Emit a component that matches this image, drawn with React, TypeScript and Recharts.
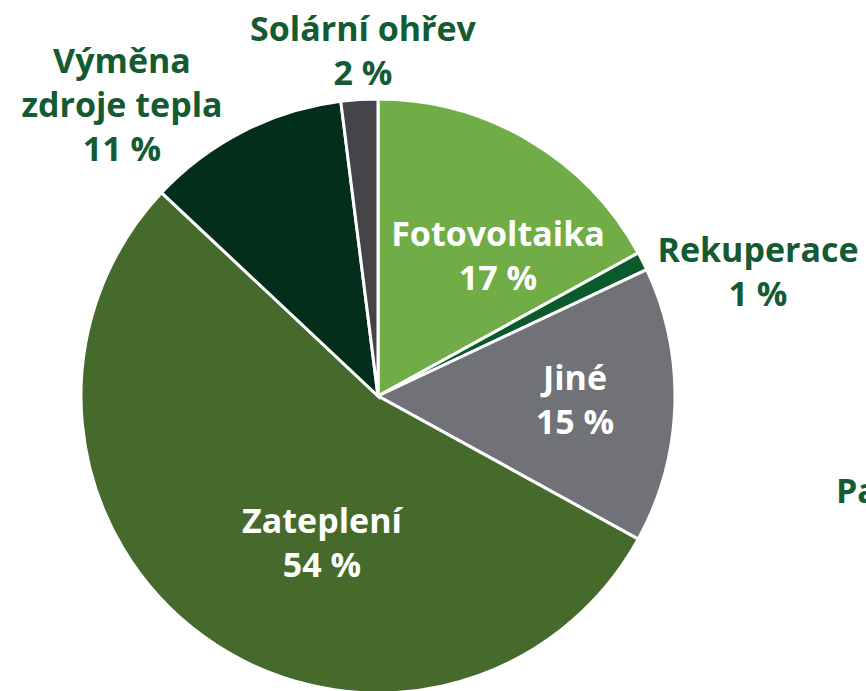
import { PieChart, Pie, Cell } from "recharts";

const names = ["Fotovoltaika", "Rekuperace", "Jiné", "Zateplení", "Výměna zdroje tepla", "Solární ohřev"];
const shares = [17, 1, 15, 54, 11, 2];
const colors = ["#70ad47", "#0b5a2c", "#707278", "#456a2b", "#022e1b", "#434448"];

const data = names.map((name, i) => ({ name, value: shares[i] }));

// label layout: offset from the pie centre, line breaks, inside/outside
const labelLayout = [
  { dx: 120, dy: -141, lines: ["Fotovoltaika"], inside: true },
  { dx: 380, dy: -125, lines: ["Rekuperace"], inside: false },
  { dx: 197, dy: 3, lines: ["Jiné"], inside: true },
  { dx: -56, dy: 146, lines: ["Zateplení"], inside: true },
  { dx: -256, dy: -292, lines: ["Výměna", "zdroje tepla"], inside: false },
  { dx: -15, dy: -346, lines: ["Solární ohřev"], inside: false },
];

const FONT = "'Open Sans', 'DejaVu Sans', sans-serif";
const LINE = 44;
const SIZE = 34;

function renderLabel(props: any) {
  const { cx, cy, index, value } = props;
  const l = labelLayout[index];
  const rows = [...l.lines, `${value} %`];
  const top = cy + l.dy - ((rows.length - 1) * LINE) / 2;
  return (
    <text
      key={index}
      x={cx + l.dx}
      y={top}
      textAnchor="middle"
      dominantBaseline="central"
      fill={l.inside ? "#ffffff" : "#145a32"}
      fontFamily={FONT}
      fontWeight={700}
      fontSize={SIZE}
    >
      {rows.map((r, i) => (
        <tspan key={i} x={cx + l.dx} y={top + i * LINE}>
          {r}
        </tspan>
      ))}
    </text>
  );
}

export default function App() {
  return (
    <div style={{ position: "absolute", left: 0, top: 0, width: 866, height: 691, background: "#fff" }}>
      <PieChart width={866} height={691} margin={{ top: 0, right: 0, bottom: 0, left: 0 }}>
        <Pie
          data={data}
          dataKey="value"
          nameKey="name"
          cx={378}
          cy={396}
          outerRadius={297}
          startAngle={90}
          endAngle={-270}
          stroke="#ffffff"
          strokeWidth={3}
          label={renderLabel}
          labelLine={false}
          isAnimationActive={false}
        >
          {data.map((d, i) => (
            <Cell key={d.name} fill={colors[i]} />
          ))}
        </Pie>
        <text x={836} y={490} dominantBaseline="central" fill="#145a32" fontFamily={FONT} fontWeight={700} fontSize={SIZE}>
          Pasivní dům
        </text>
      </PieChart>
    </div>
  );
}
